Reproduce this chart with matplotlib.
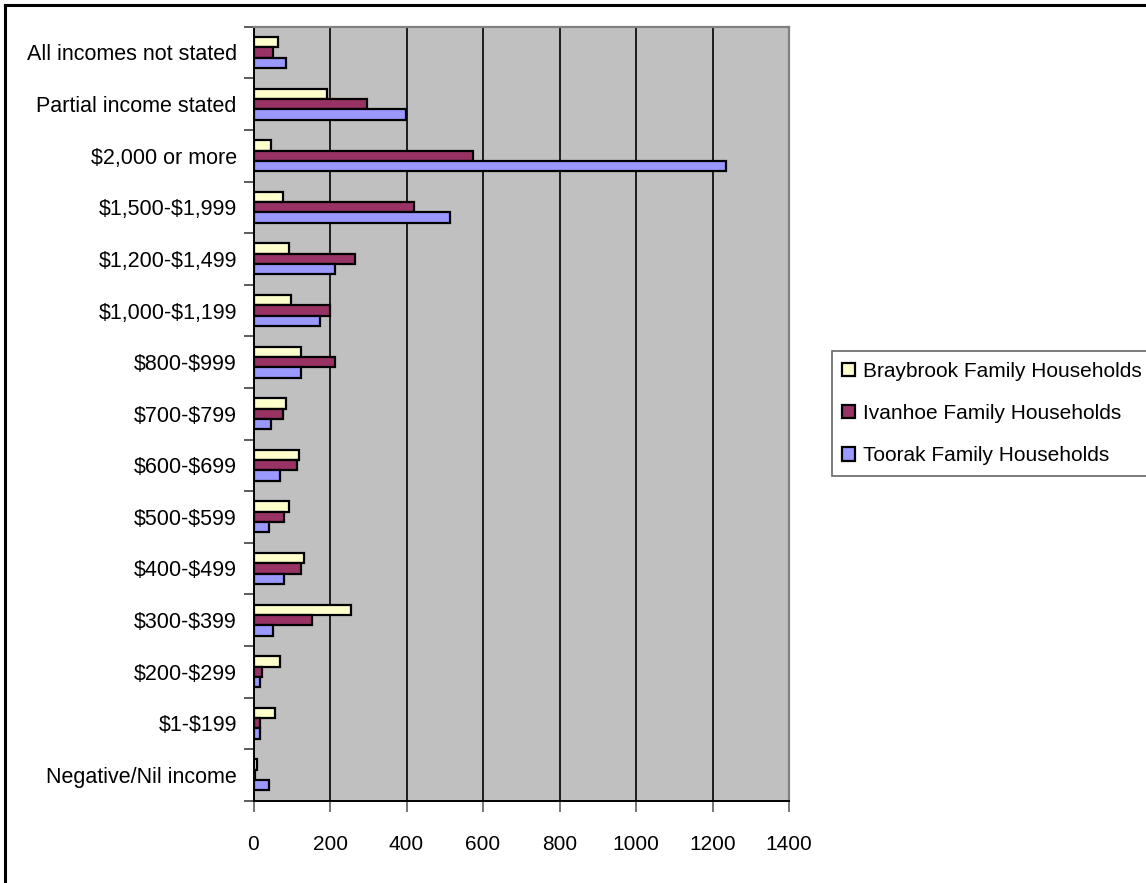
import numpy as np
from matplotlib import pyplot as plt
from matplotlib.lines import Line2D
from matplotlib.ticker import FixedLocator

plt.rcParams['font.family'] = ['Liberation Sans', 'DejaVu Sans']

# income bands, bottom of the chart first
categories = ["Negative/Nil income", "$1-$199", "$200-$299", "$300-$399",
              "$400-$499", "$500-$599", "$600-$699", "$700-$799",
              "$800-$999", "$1,000-$1,199", "$1,200-$1,499", "$1,500-$1,999",
              "$2,000 or more", "Partial income stated", "All incomes not stated"]
braybrook = [9, 56, 68, 255, 132, 94, 120, 86, 123, 98, 94, 77, 47, 191, 65]
ivanhoe = [5, 18, 21, 154, 124, 81, 115, 77, 213, 199, 265, 420, 574, 298, 51]
toorak = [40, 18, 18, 52, 81, 40, 69, 47, 123, 175, 213, 514, 1235, 399, 86]
series_names = ["Braybrook Family Households", "Ivanhoe Family Households",
                "Toorak Family Households"]
xticks = [0, 200, 400, 600, 800, 1000, 1200, 1400]

W, H = 1146, 883
fig = plt.figure(figsize=(W / 100, H / 100), dpi=100)
ax = fig.add_axes([253.5 / W, 1 - 800.7 / H, (789 - 253.5) / W, (800.7 - 26.7) / H])
ax.set_facecolor('#C0C0C0')

y = np.arange(len(categories))
h = 0.2
bar_kw = dict(height=h, edgecolor='black', linewidth=1.6, zorder=3)
ax.barh(y + h, braybrook, color='#FFFFCC', label=series_names[0], **bar_kw)
ax.barh(y, ivanhoe, color='#993366', label=series_names[1], **bar_kw)
ax.barh(y - h, toorak, color='#9999FF', label=series_names[2], **bar_kw)

ax.set_xlim(0, 1400)
ax.set_ylim(-0.5, len(categories) - 0.5)

ax.set_xticks(xticks)
ax.set_xticklabels([str(v) for v in xticks], fontsize=15)
ax.xaxis.grid(True, color='black', linewidth=1.2, zorder=1)
ax.set_axisbelow(True)
ax.tick_params(axis='x', direction='out', length=8, width=1.2, color='#606060', pad=17)

# category labels sit between the tick marks
ax.set_yticks(y)
ax.set_yticklabels([c.replace('$', r'\$') for c in categories], fontsize=15.5)
ax.tick_params(axis='y', which='major', length=0, pad=12)
ax.yaxis.set_minor_locator(FixedLocator(np.arange(-0.5, len(categories), 1.0)))
ax.tick_params(axis='y', which='minor', direction='out', length=7, width=1.2, color='#404040')

for side in ('top', 'right'):
    ax.spines[side].set_color('#808080')
    ax.spines[side].set_linewidth(1.6)
for side in ('left', 'bottom'):
    ax.spines[side].set_color('black')
    ax.spines[side].set_linewidth(1.4)

leg = fig.legend(loc='center left', bbox_to_anchor=(832 / W, 1 - 413.5 / H),
                 fontsize=15, frameon=True, fancybox=False, shadow=False,
                 handlelength=0.62, handleheight=0.62, handletextpad=0.35,
                 labelspacing=1.12, borderpad=0.5, borderaxespad=0)
leg.get_frame().set_edgecolor('#404040')
leg.get_frame().set_linewidth(1.2)

# outer chart frame
fig.add_artist(Line2D([5 / W, 5 / W], [0, 1 - 5 / H], color='black', linewidth=2.2))
fig.add_artist(Line2D([5 / W, 1], [1 - 5 / H, 1 - 5 / H], color='black', linewidth=2.2))

fig.savefig('out.png', dpi=100)
